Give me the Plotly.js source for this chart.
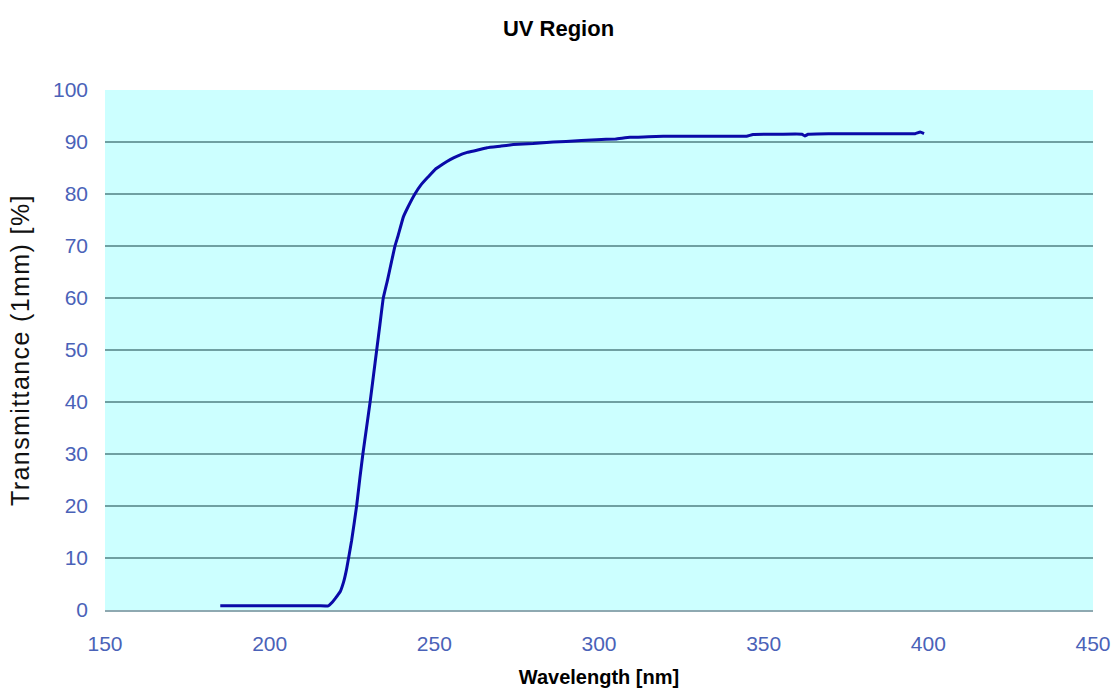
<!DOCTYPE html>
<html>
<head>
<meta charset="utf-8">
<script src="https://cdn.plot.ly/plotly-3.0.1.min.js"></script>
<style>html,body{margin:0;padding:0;background:#fff;}#chart{width:1117px;height:695px;}
.ytitle{letter-spacing:1.4px;}</style>
</head>
<body>
<div id="chart"></div>
<script>
var wavelength = [185,190,195,200,205,210,215,217.8,219,220,221.4,222.5,223.4,224.9,226.4,227.4,228.3,229.4,230.5,231.5,232.5,233.5,234.5,235.8,237,238.1,239,240.6,242,244.1,246,248,250.2,252.5,254.8,257,260,262.9,266,270,274,280,286.1,290,299.3,305,309.4,315,319.5,330,340,344.8,346.8,355,361.6,362.5,363.5,370,380,390,396,397.5,398.7];
var transmittance = [0.8,0.8,0.8,0.8,0.8,0.8,0.8,0.8,1.5,2.3,3.5,5.5,8,13.4,20,25.4,30,35,40,45,50,55,60,63.5,67,70.1,72,75.6,77.5,80,81.8,83.2,84.7,85.7,86.6,87.3,88,88.4,88.9,89.2,89.5,89.7,90,90.1,90.45,90.6,90.9,91.0,91.1,91.1,91.1,91.1,91.45,91.5,91.5,91.15,91.5,91.6,91.6,91.6,91.6,91.9,91.6];
var xTicks = [150,200,250,300,350,400,450];
var yTicks = [0,10,20,30,40,50,60,70,80,90,100];

var tickColor = '#4a62b8';
var trace = {
  x: wavelength, y: transmittance, type: 'scatter', mode: 'lines',
  line: {color: '#0a0aa8', width: 3, shape: 'spline', smoothing: 0.3},
  hoverinfo: 'x+y'
};
var layout = {
  width: 1117, height: 695,
  margin: {l: 105, r: 24, t: 90, b: 85},
  paper_bgcolor: '#ffffff',
  plot_bgcolor: '#ccffff',
  showlegend: false,
  font: {family: 'Liberation Sans, Arial, sans-serif'},
  title: {text: '<b>UV Region</b>', x: 0.5, xanchor: 'center', y: 0.96, yanchor: 'middle',
          font: {size: 22, color: '#000000', family: 'Liberation Sans, Arial, sans-serif'}},
  xaxis: {
    range: [150, 450], tickvals: xTicks, ticktext: xTicks.map(String),
    showgrid: false, zeroline: false,
    showline: true, linecolor: '#8ea9b1', linewidth: 2,
    ticks: '', ticklabelstandoff: 14,
    tickfont: {size: 21, color: tickColor},
    title: {text: '<b>Wavelength [nm]</b>', standoff: 16, font: {size: 20, color: '#000000'}}
  },
  yaxis: {
    range: [0, 100], tickvals: yTicks, ticktext: yTicks.map(String),
    showgrid: true, gridcolor: '#6fa0a2', gridwidth: 1.5,
    zeroline: false, showline: false,
    ticks: '', ticklabelstandoff: 16,
    tickfont: {size: 21, color: tickColor},
    title: {text: 'Transmittance (1mm) [%]', standoff: 16, font: {size: 25, color: '#111111'}}
  }
};
Plotly.newPlot('chart', [trace], layout, {displayModeBar: false, staticPlot: true});
</script>
</body>
</html>
